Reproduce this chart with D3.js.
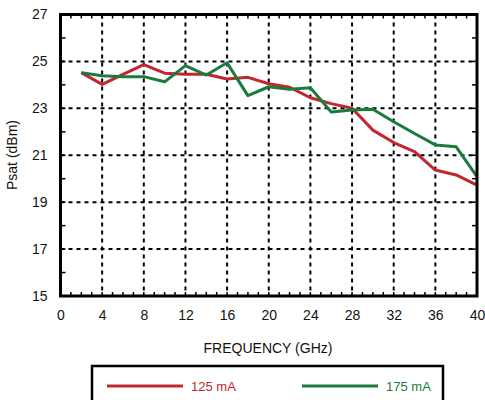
<!DOCTYPE html>
<html><head><meta charset="utf-8">
<script src="https://cdn.jsdelivr.net/npm/d3@7"></script>
<style>body{margin:0;background:#fff;} svg{display:block;font-family:"Liberation Sans",Arial,Helvetica,sans-serif;}</style>
</head><body>
<script>
const freqs = [2,4,6,8,10,12,14,16,18,20,22,24,26,28,30,32,34,36,38,40];
const series125 = [24.52,24.02,24.45,24.86,24.5,24.45,24.45,24.25,24.32,24.05,23.9,23.45,23.2,23.0,22.07,21.54,21.15,20.37,20.16,19.73];
const series175 = [24.52,24.39,24.35,24.35,24.13,24.82,24.42,24.94,23.54,23.92,23.81,23.88,22.84,22.93,22.96,22.43,21.93,21.44,21.36,20.09];
const xTicks = [0,4,8,12,16,20,24,28,32,36,40];
const yTicks = [15,17,19,21,23,25,27];
const seriesNames = ["125 mA","175 mA"];
const colors = ["#c1272d","#1b7b3d"];

const W=485,H=400;
const svg=d3.select("body").append("svg").attr("width",W).attr("height",H);
const L=60.5,R=477,T=14.5,B=296;
const x=d3.scaleLinear().domain([0,40]).range([L,R]);
const y=d3.scaleLinear().domain([15,27]).range([B,T]);

// grid
const g=svg.append("g");
g.selectAll(".vg").data(xTicks.filter(d=>d>0&&d<40)).enter().append("line")
 .attr("x1",d=>x(d)).attr("x2",d=>x(d)).attr("y1",T).attr("y2",B)
 .attr("stroke","#000").attr("stroke-width",2).attr("stroke-dasharray","4,4");
g.selectAll(".hg").data(yTicks.filter(d=>d>15&&d<27)).enter().append("line")
 .attr("y1",d=>y(d)).attr("y2",d=>y(d)).attr("x1",L).attr("x2",R)
 .attr("stroke","#000").attr("stroke-width",2).attr("stroke-dasharray","4,4");

// minor ticks
const xm=d3.range(1,40);
g.selectAll(".xmb").data(xm).enter().append("line")
 .attr("x1",d=>x(d)).attr("x2",d=>x(d)).attr("y1",B).attr("y2",B-4).attr("stroke","#000").attr("stroke-width",1.5);
g.selectAll(".xmt").data(xm).enter().append("line")
 .attr("x1",d=>x(d)).attr("x2",d=>x(d)).attr("y1",T).attr("y2",T+4).attr("stroke","#000").attr("stroke-width",1.5);
const ym=d3.range(16,27,1);
g.selectAll(".yml").data(ym).enter().append("line")
 .attr("y1",d=>y(d)).attr("y2",d=>y(d)).attr("x1",L).attr("x2",L+5).attr("stroke","#000").attr("stroke-width",1.5);
g.selectAll(".ymr").data(ym).enter().append("line")
 .attr("y1",d=>y(d)).attr("y2",d=>y(d)).attr("x1",R).attr("x2",R-5).attr("stroke","#000").attr("stroke-width",1.5);

// lines
const line=d3.line().x((d,i)=>x(freqs[i])).y(d=>y(d));
[series125,series175].forEach((s,i)=>{
  svg.append("path").datum(s).attr("d",line).attr("fill","none")
   .attr("stroke",colors[i]).attr("stroke-width",3).attr("stroke-linejoin","round");
});

// frame
svg.append("rect").attr("x",L).attr("y",T).attr("width",R-L).attr("height",B-T)
 .attr("fill","none").attr("stroke","#000").attr("stroke-width",3);

// axes labels via d3 axes
const xa=svg.append("g").attr("transform",`translate(0,${B})`)
 .call(d3.axisBottom(x).tickValues(xTicks).tickSize(0).tickPadding(14));
xa.select(".domain").remove();
xa.selectAll("text").attr("font-size",14).attr("fill","#111").attr("font-family","Liberation Sans, Arial, sans-serif");
const ya=svg.append("g").attr("transform",`translate(${L},0)`)
 .call(d3.axisLeft(y).tickValues(yTicks).tickSize(0).tickPadding(13));
ya.select(".domain").remove();
ya.selectAll("text").attr("font-size",14).attr("fill","#111").attr("font-family","Liberation Sans, Arial, sans-serif");

svg.append("text").attr("x",268).attr("y",353).attr("text-anchor","middle")
 .attr("font-size",14).attr("fill","#111").text("FREQUENCY (GHz)");
svg.append("text").attr("transform","translate(17,155) rotate(-90)").attr("text-anchor","middle")
 .attr("font-size",14).attr("fill","#111").text("Psat (dBm)");

// legend
svg.append("rect").attr("x",92).attr("y",366).attr("width",351).attr("height",50)
 .attr("fill","#fff").attr("stroke","#000").attr("stroke-width",2.5);
const lx=[107,302];
seriesNames.forEach((n,i)=>{
  svg.append("line").attr("x1",lx[i]).attr("x2",lx[i]+76).attr("y1",386).attr("y2",386)
   .attr("stroke",colors[i]).attr("stroke-width",3);
  svg.append("text").attr("x",lx[i]+84).attr("y",391).attr("font-size",13)
   .attr("fill",colors[i]).text(n);
});
</script>
</body></html>
